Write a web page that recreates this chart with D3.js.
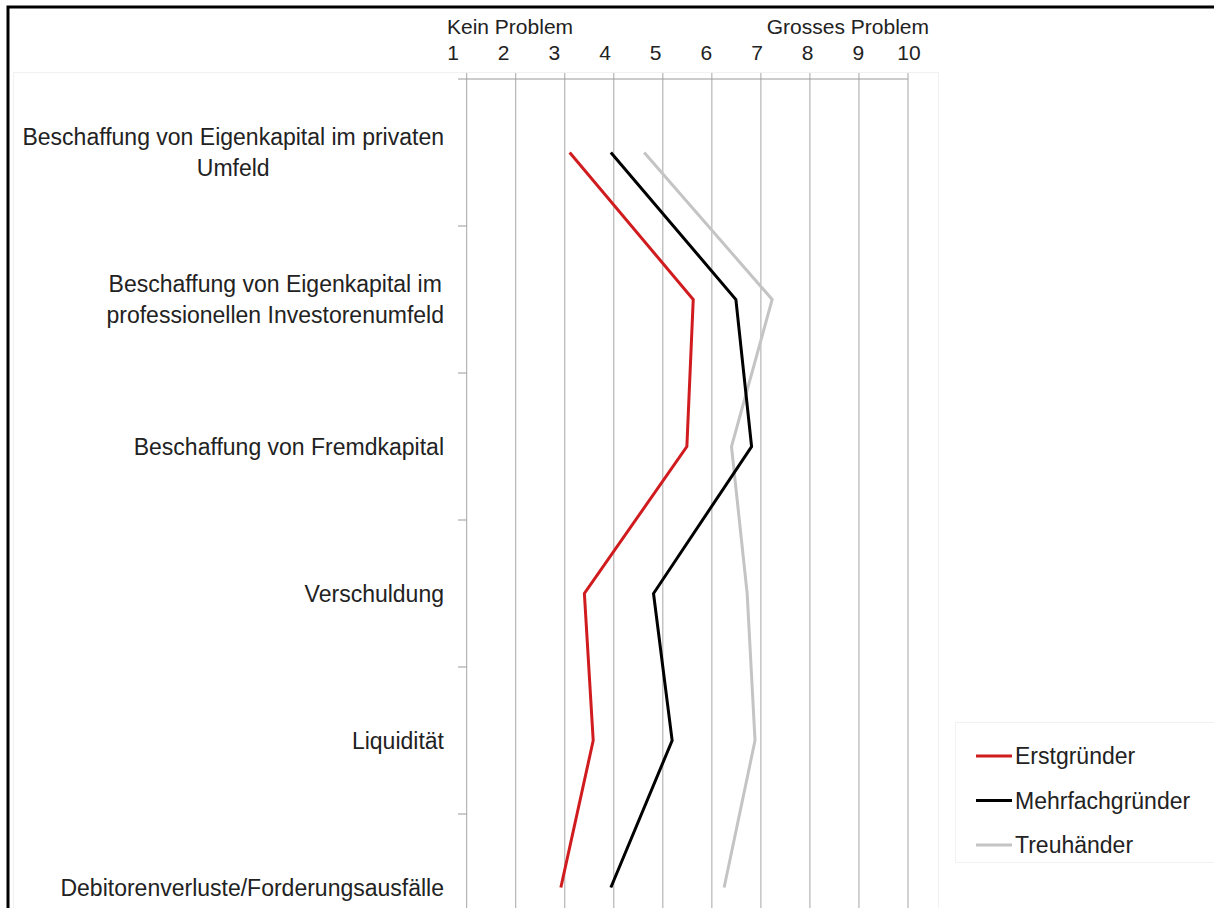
<!DOCTYPE html>
<html>
<head>
<meta charset="utf-8">
<script src="https://cdn.jsdelivr.net/npm/d3@7"></script>
<style>
  html, body { margin: 0; padding: 0; background: #fff; }
  svg { display: block; }
  text { font-family: "Liberation Sans", Arial, Helvetica, sans-serif; fill: #222; }
</style>
</head>
<body>
<svg id="chart" width="1214" height="908"></svg>
<script>
// Problem areas (each label split into its printed lines)
const categories = [
  ["Beschaffung von Eigenkapital im privaten", "Umfeld"],
  ["Beschaffung von Eigenkapital im", "professionellen Investorenumfeld"],
  ["Beschaffung von Fremdkapital"],
  ["Verschuldung"],
  ["Liquidität"],
  ["Debitorenverluste/Forderungsausfälle"]
];
const categoryKeys = categories.map(c => c.join(" "));

// Mean rating per group (1 = kein Problem, 10 = grosses Problem)
const erstgruender      = [3.10, 5.62, 5.49, 3.40, 3.58, 2.92];
const mehrfachgruender  = [3.94, 6.49, 6.81, 4.81, 5.19, 3.94];
const treuhaender       = [4.62, 7.23, 6.40, 6.72, 6.88, 6.25];

const seriesNames  = ["Erstgründer", "Mehrfachgründer", "Treuhänder"];
const seriesColors = ["#d01c1f", "#000000", "#c4c4c4"];
const seriesValues = [erstgruender, mehrfachgruender, treuhaender];

const tickLabels = ["1", "2", "3", "4", "5", "6", "7", "8", "9", "10"];
const scaleEnds  = ["Kein Problem", "Grosses Problem"];

const svg = d3.select("#chart");

// outer frame
svg.append("path")
  .attr("d", "M8,1000 L8,7 L1300,7")
  .attr("fill", "none")
  .attr("stroke", "#000")
  .attr("stroke-width", 3);

// faint plot-area and legend boxes
svg.append("rect")
  .attr("x", 13.5).attr("y", 72.5).attr("width", 925).attr("height", 900)
  .attr("fill", "none").attr("stroke", "#f1f1f1");
svg.append("rect")
  .attr("x", 955.5).attr("y", 722.5).attr("width", 270).attr("height", 140)
  .attr("fill", "none").attr("stroke", "#f1f1f1");

// scales
const plotTop = 79, band = 147;
const x = d3.scaleLinear().domain([1, 10]).range([466.7, 908]);
const y = d3.scalePoint().domain(categoryKeys)
  .range([plotTop, plotTop + band * categoryKeys.length]).padding(0.5);
const labelX = d3.scalePoint().domain(tickLabels).range([453, 909]);

// vertical grid lines
svg.append("g")
  .selectAll("line")
  .data(d3.range(1, 11))
  .join("line")
  .attr("x1", d => x(d)).attr("x2", d => x(d))
  .attr("y1", plotTop - 6).attr("y2", 960)
  .attr("stroke", "#a6a6a6").attr("stroke-width", 1);

// top horizontal axis line
svg.append("line")
  .attr("x1", 458).attr("x2", x(10))
  .attr("y1", plotTop).attr("y2", plotTop)
  .attr("stroke", "#9a9a9a");

// category separators on the left
svg.append("g")
  .selectAll("line")
  .data(d3.range(1, categoryKeys.length))
  .join("line")
  .attr("x1", 458).attr("x2", x(1))
  .attr("y1", i => plotTop + band * i).attr("y2", i => plotTop + band * i)
  .attr("stroke", "#9a9a9a");

// scale labels
svg.append("g")
  .selectAll("text")
  .data(tickLabels)
  .join("text")
  .attr("x", d => labelX(d)).attr("y", 60)
  .attr("text-anchor", "middle")
  .attr("font-size", 21)
  .text(d => d);

svg.append("text")
  .attr("x", labelX("1") - 6).attr("y", 34)
  .attr("font-size", 21)
  .text(scaleEnds[0]);
svg.append("text")
  .attr("x", labelX("10") + 20).attr("y", 34)
  .attr("text-anchor", "end")
  .attr("font-size", 21)
  .text(scaleEnds[1]);

// category labels: lines centred on a block that ends at the axis
const labelRight = 444, lineH = 31;
const catG = svg.append("g").attr("font-size", 23);
categories.forEach((lines, i) => {
  const g = catG.append("g");
  const texts = lines.map((ln, j) => g.append("text")
    .attr("y", y(categoryKeys[i]) + 8 + (j - (lines.length - 1) / 2) * lineH)
    .attr("text-anchor", "middle")
    .text(ln));
  const maxW = d3.max(texts, t => t.node().getComputedTextLength());
  texts.forEach(t => t.attr("x", labelRight - maxW / 2));
});

// series lines
const line = d3.line()
  .x(d => x(d.v))
  .y(d => y(d.k));

[2, 1, 0].forEach(s => {
  svg.append("path")
    .datum(seriesValues[s].map((v, i) => ({ v, k: categoryKeys[i] })))
    .attr("fill", "none")
    .attr("stroke", seriesColors[s])
    .attr("stroke-width", 3)
    .attr("stroke-linejoin", "miter")
    .attr("d", line);
});

// legend
const legend = svg.append("g").attr("transform", "translate(976,756)");
seriesNames.forEach((name, i) => {
  const row = legend.append("g").attr("transform", `translate(0,${i * 44.5})`);
  row.append("line")
    .attr("x1", 0).attr("x2", 36).attr("y1", 0).attr("y2", 0)
    .attr("stroke", seriesColors[i]).attr("stroke-width", 3);
  row.append("text")
    .attr("x", 39).attr("y", 8)
    .attr("font-size", 23)
    .text(name);
});
</script>
</body>
</html>
